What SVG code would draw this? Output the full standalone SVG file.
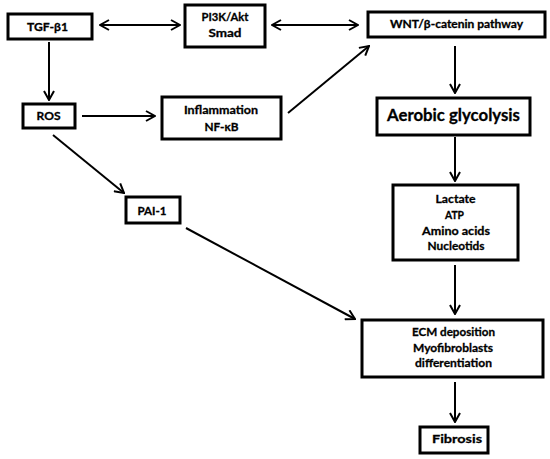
<svg xmlns="http://www.w3.org/2000/svg" width="550" height="459" viewBox="0 0 550 459">
<defs>
<marker id="ah" viewBox="0 0 12 12" refX="11" refY="6" markerWidth="12" markerHeight="12" markerUnits="userSpaceOnUse" orient="auto-start-reverse">
<polyline points="2,1 11,6 2,11" fill="none" stroke="#000" stroke-width="2"/>
</marker>
<style>
.box{fill:#fff;stroke:#000;stroke-width:3}
.t{font-family:Lato,"Open Sans","Liberation Sans",sans-serif;font-weight:bold;font-size:12px;fill:#000;stroke:#000;stroke-width:0.3;text-anchor:middle}
.c{fill:none;stroke:#000;stroke-width:2}
</style>
</defs>
<rect width="550" height="459" fill="#fff"/>
<g id="connectors">
<line class="c" x1="100" y1="25" x2="180" y2="25" marker-start="url(#ah)" marker-end="url(#ah)"/>
<line class="c" x1="272" y1="25" x2="358" y2="25" marker-start="url(#ah)" marker-end="url(#ah)"/>
<line class="c" x1="49" y1="42" x2="49" y2="100" marker-end="url(#ah)"/>
<line class="c" x1="82" y1="116" x2="155" y2="116" marker-end="url(#ah)"/>
<line class="c" x1="288" y1="113" x2="369" y2="46" marker-end="url(#ah)"/>
<line class="c" x1="53" y1="135" x2="124" y2="193" marker-end="url(#ah)"/>
<line class="c" x1="186" y1="228" x2="355" y2="319" marker-end="url(#ah)"/>
<line class="c" x1="455" y1="46" x2="455" y2="93" marker-end="url(#ah)"/>
<line class="c" x1="455" y1="137" x2="455" y2="181" marker-end="url(#ah)"/>
<line class="c" x1="455" y1="265" x2="455" y2="314" marker-end="url(#ah)"/>
<line class="c" x1="455" y1="382" x2="455" y2="422" marker-end="url(#ah)"/>
</g>
<g id="tgf"><rect class="box" x="8" y="14" width="84" height="25"/><text class="t" x="47.5" y="31" textLength="41" lengthAdjust="spacingAndGlyphs">TGF-β1</text></g>
<g id="pi3k"><rect class="box" x="185" y="5" width="80" height="42"/><text class="t" x="225" y="21" textLength="47" lengthAdjust="spacingAndGlyphs">PI3K/Akt</text><text class="t" x="225" y="37" textLength="33" lengthAdjust="spacingAndGlyphs">Smad</text></g>
<g id="wnt"><rect class="box" x="368" y="12" width="177" height="25"/><text class="t" x="456.5" y="28" style="font-size:11px" textLength="133" lengthAdjust="spacingAndGlyphs">WNT/β-catenin pathway</text></g>
<g id="ros"><rect class="box" x="23" y="104" width="52" height="24"/><text class="t" x="48.5" y="120" textLength="24" lengthAdjust="spacingAndGlyphs">ROS</text></g>
<g id="inflammation"><rect class="box" x="162" y="97" width="119" height="42"/><text class="t" x="221" y="114" textLength="74" lengthAdjust="spacingAndGlyphs">Inflammation</text><text class="t" x="221.5" y="131" textLength="34" lengthAdjust="spacingAndGlyphs">NF-κB</text></g>
<g id="aerobic"><rect class="box" x="377" y="98" width="153" height="37"/><text class="t" x="453.5" y="121" style="font-size:17px" textLength="133" lengthAdjust="spacingAndGlyphs">Aerobic glycolysis</text></g>
<g id="pai1"><rect class="box" x="126" y="197" width="54" height="26"/><text class="t" x="152" y="215" textLength="29" lengthAdjust="spacingAndGlyphs">PAI-1</text></g>
<g id="metabolites"><rect class="box" x="393" y="185" width="125" height="75"/><text class="t" x="455.5" y="203" textLength="40" lengthAdjust="spacingAndGlyphs">Lactate</text><text class="t" x="454.5" y="219" textLength="19" lengthAdjust="spacingAndGlyphs">ATP</text><text class="t" x="456" y="235" textLength="68" lengthAdjust="spacingAndGlyphs">Amino acids</text><text class="t" x="456" y="250" textLength="57" lengthAdjust="spacingAndGlyphs">Nucleotids</text></g>
<g id="ecm"><rect class="box" x="362" y="320" width="181" height="57"/><text class="t" x="453.5" y="336" textLength="83" lengthAdjust="spacingAndGlyphs">ECM deposition</text><text class="t" x="453" y="352" textLength="80" lengthAdjust="spacingAndGlyphs">Myofibroblasts</text><text class="t" x="453.5" y="367" textLength="77" lengthAdjust="spacingAndGlyphs">differentiation</text></g>
<g id="fibrosis"><rect class="box" x="420" y="427" width="68" height="26"/><text class="t" x="457" y="443" textLength="50" lengthAdjust="spacingAndGlyphs">Fibrosis</text></g>
</svg>
